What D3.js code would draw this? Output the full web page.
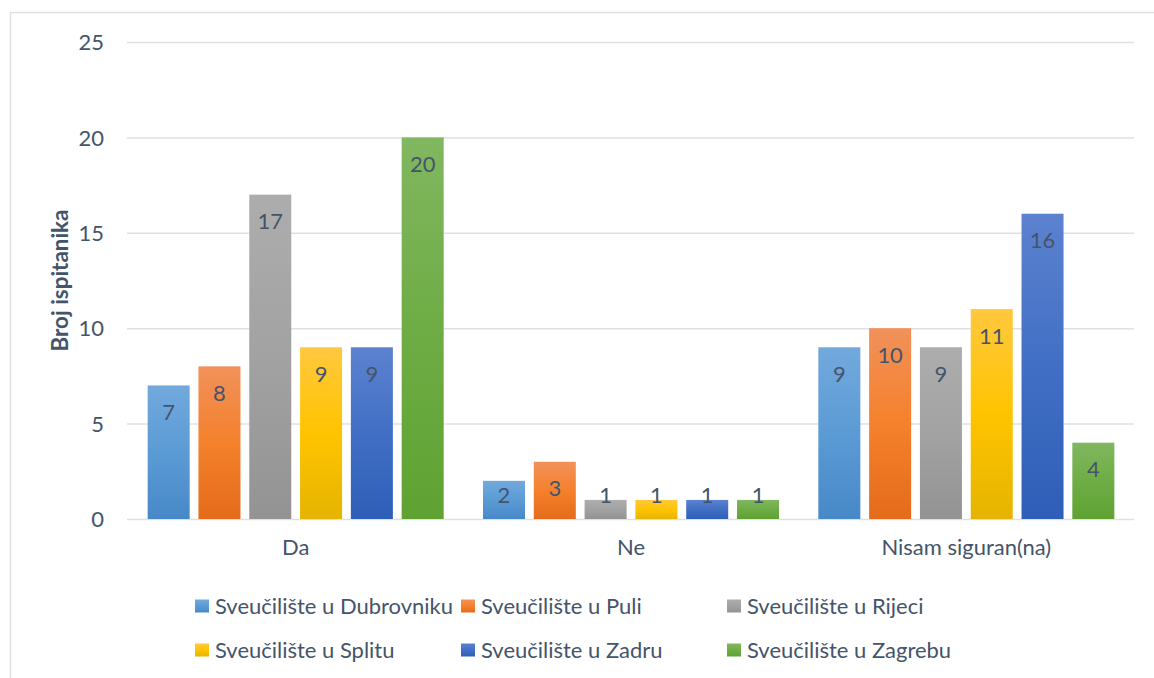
<!DOCTYPE html>
<html>
<head>
<meta charset="utf-8">
<script src="https://cdn.jsdelivr.net/npm/d3@7"></script>
<style>
  html, body { margin: 0; padding: 0; background: #fff; }
  svg { display: block; }
</style>
</head>
<body>
<svg id="chart" width="1154" height="678"></svg>
<script>
const categories = ["Da", "Ne", "Nisam siguran(na)"];
const seriesNames = [
  "Sveučilište u Dubrovniku",
  "Sveučilište u Puli",
  "Sveučilište u Rijeci",
  "Sveučilište u Splitu",
  "Sveučilište u Zadru",
  "Sveučilište u Zagrebu"
];
const dubrovnik = [7, 2, 9];
const pula = [8, 3, 10];
const rijeka = [17, 1, 9];
const split = [9, 1, 11];
const zadar = [9, 1, 16];
const zagreb = [20, 1, 4];
const seriesValues = [dubrovnik, pula, rijeka, split, zadar, zagreb];
const yTicks = [0, 5, 10, 15, 20, 25];
const yTitle = "Broj ispitanika";

// gradient stops: top, middle, bottom
const seriesColors = [
  ["#72A9DD", "#5B9BD5", "#4788C8"],
  ["#F1915A", "#F5812C", "#E46B1A"],
  ["#ADADAD", "#A2A2A2", "#939393"],
  ["#FFC83F", "#FFC400", "#E5B400"],
  ["#5C82CF", "#416FC5", "#2E5EB7"],
  ["#81B760", "#6EAD45", "#5FA232"]
];

const textColor = "#44546A";
const gridColor = "#DDE1E6";
const fontFamily = "Lato, 'Open Sans', sans-serif";

const svg = d3.select("#chart");

// font size so the legend text width matches the reference (~238px)
const probe = svg.append("text").attr("font-family", fontFamily).attr("font-size", 100).text(seriesNames[0]);
const w100 = probe.node().getComputedTextLength();
probe.remove();
const fs = 238 / w100 * 100;

// border
svg.append("line").attr("x1", 10).attr("x2", 1154).attr("y1", 12.5).attr("y2", 12.5)
  .attr("stroke", gridColor).attr("stroke-width", 1.5);
svg.append("line").attr("x1", 10.5).attr("x2", 10.5).attr("y1", 12).attr("y2", 678)
  .attr("stroke", gridColor).attr("stroke-width", 1.5);

const plotLeft = 128, plotRight = 1134, plotTop = 42, plotBottom = 519;

const y = d3.scaleLinear().domain([0, 25]).range([plotBottom, plotTop]);
const x0 = d3.scaleBand().domain(categories).range([plotLeft, plotRight]).paddingInner(0).paddingOuter(0);
const x1 = d3.scaleBand().domain(d3.range(seriesNames.length)).range([0, x0.bandwidth()])
  .paddingInner(0.173).paddingOuter(0.387);

// gradients
const defs = svg.append("defs");
seriesColors.forEach((c, i) => {
  const g = defs.append("linearGradient").attr("id", "grad" + i)
    .attr("x1", 0).attr("y1", 0).attr("x2", 0).attr("y2", 1);
  g.append("stop").attr("offset", "0%").attr("stop-color", c[0]);
  g.append("stop").attr("offset", "50%").attr("stop-color", c[1]);
  g.append("stop").attr("offset", "100%").attr("stop-color", c[2]);
});

// gridlines
svg.append("g").selectAll("line").data(yTicks).join("line")
  .attr("x1", plotLeft - 1).attr("x2", plotRight)
  .attr("y1", d => y(d) + 0.5).attr("y2", d => y(d) + 0.5)
  .attr("stroke", gridColor).attr("stroke-width", 1.5);

// y tick labels
const yAxis = d3.axisLeft(y).tickValues(yTicks).tickSize(0).tickPadding(0);
const yg = svg.append("g").attr("transform", `translate(104,0)`).call(yAxis);
yg.select(".domain").remove();
yg.selectAll("text").attr("font-family", fontFamily).attr("font-size", fs)
  .attr("fill", textColor).attr("dy", "0.35em");

// x category labels
const xAxis = d3.axisBottom(x0).tickSize(0).tickPadding(0);
const xg = svg.append("g").attr("transform", `translate(0,${plotBottom + 20})`).call(xAxis);
xg.select(".domain").remove();
xg.selectAll("text").attr("font-family", fontFamily).attr("font-size", fs)
  .attr("fill", textColor).attr("dy", "0.71em");

// y title
svg.append("text")
  .attr("transform", `translate(60,${(plotTop + plotBottom) / 2}) rotate(-90)`)
  .attr("text-anchor", "middle").attr("dy", "0.35em")
  .attr("font-family", fontFamily).attr("font-weight", "bold").attr("font-size", fs * 1.02)
  .attr("fill", textColor).text(yTitle);

// bars
const barData = [];
categories.forEach((cat, ci) => {
  seriesValues.forEach((vals, si) => {
    barData.push({ cat, si, v: vals[ci] });
  });
});

svg.append("g").selectAll("rect").data(barData).join("rect")
  .attr("x", d => x0(d.cat) + x1(d.si))
  .attr("y", d => y(d.v))
  .attr("width", x1.bandwidth())
  .attr("height", d => y(0) - y(d.v))
  .attr("fill", d => `url(#grad${d.si})`);

// data labels (inside end, kept above the baseline for short bars)
svg.append("g").selectAll("text").data(barData).join("text")
  .attr("x", d => x0(d.cat) + x1(d.si) + x1.bandwidth() / 2)
  .attr("y", d => Math.min(y(d.v) + 27, y(0) - 24))
  .attr("dy", "0.35em")
  .attr("text-anchor", "middle")
  .attr("font-family", fontFamily).attr("font-size", fs)
  .attr("fill", textColor)
  .text(d => d.v);

// legend
const legend = svg.append("g");
const items = legend.selectAll("g").data(seriesNames).join("g")
  .attr("transform", (d, i) => `translate(${195 + (i % 3) * 266},${606 + Math.floor(i / 3) * 44})`);
items.append("rect").attr("x", 0).attr("y", -6.5).attr("width", 14).attr("height", 13)
  .attr("fill", (d, i) => `url(#grad${i})`);
items.append("text").attr("x", 20).attr("dy", "0.35em")
  .attr("font-family", fontFamily).attr("font-size", fs)
  .attr("fill", textColor).text(d => d);
</script>
</body>
</html>
